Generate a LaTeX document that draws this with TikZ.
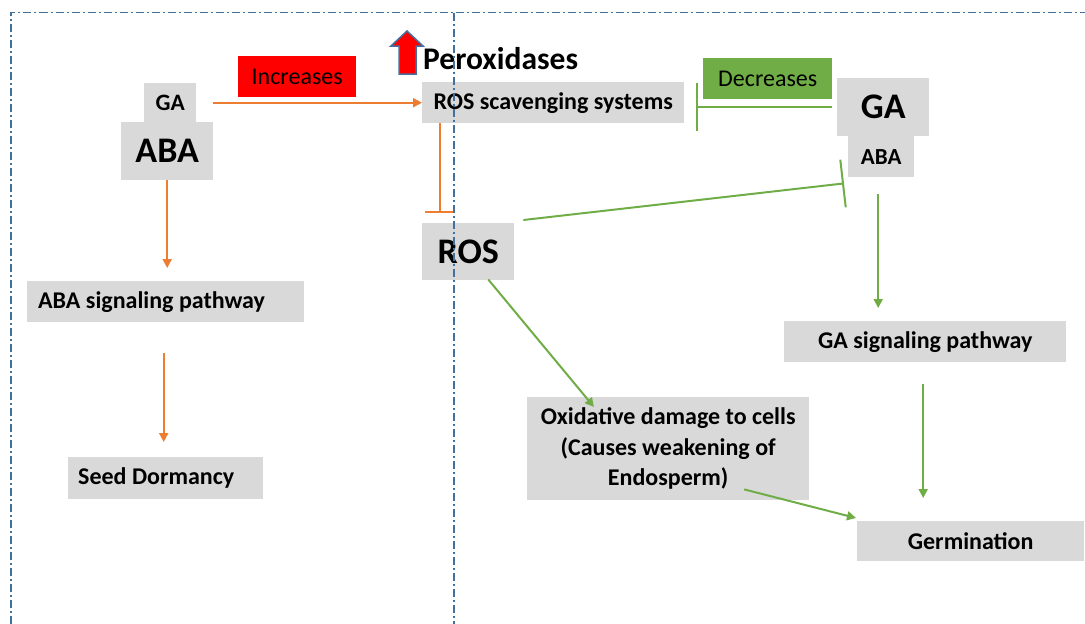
\documentclass[tikz,border=0pt]{standalone}
\usepackage{fontspec}
\setmainfont{Carlito}
\usetikzlibrary{arrows.meta,calc}
\definecolor{boxgray}{HTML}{D9D9D9}
\definecolor{linkorange}{HTML}{ED7D31}
\definecolor{linkgreen}{HTML}{70AD47}
\definecolor{frameblue}{HTML}{41719C}
\definecolor{upred}{HTML}{FF0000}

\begin{document}
\begin{tikzpicture}[x=1pt,y=-1pt,
  box/.style={fill=boxgray, inner sep=0pt, anchor=north west,
    font=\bfseries\fontsize{24}{29}\selectfont},
  bigtext/.style={font=\bfseries\fontsize{36}{40}\selectfont},
  tag/.style={inner sep=0pt, anchor=north west, font=\fontsize{24}{29}\selectfont},
  oarrow/.style={draw=linkorange, line width=2pt, -{Triangle[length=9pt,width=9pt]}},
  garrow/.style={draw=linkgreen, line width=2pt, -{Triangle[length=9pt,width=9pt]}},
  oinhib/.style={draw=linkorange, line width=2pt, -{Bar[width=30pt,line width=2pt]}},
  ginhib/.style={draw=linkgreen, line width=2pt, -{Bar[width=48pt,line width=2pt]}},
  frameline/.style={draw=frameblue, line width=1.5pt, dash pattern=on 8pt off 3pt on 2pt off 3pt}]

\useasboundingbox (0,0) rectangle (1085,624);

% left column: ABA branch
\node[box, minimum width=52pt, minimum height=39pt, font=\bfseries\fontsize{23.5}{27}\selectfont] (GA) at (144,83) {GA};
\node[box, bigtext, minimum width=92pt, minimum height=58pt] (ABA) at (121,122) {ABA};
\node[box, minimum height=41pt, inner xsep=11pt] (ABAsig) at (27,281) {\makebox[255pt][l]{ABA signaling pathway}};
\node[box, minimum height=42pt, inner xsep=10pt] (Seed) at (68,457) {\makebox[175pt][l]{Seed Dormancy}};

% labels on the links
\node[tag, fill=upred, minimum width=118pt, minimum height=41pt] (Inc) at (238,56) {Increases};
\node[tag, fill=linkgreen, minimum width=129pt, minimum height=41pt] (Dec) at (703,58) {Decreases};

% centre: ROS and its scavengers
\node[box, minimum width=262pt, minimum height=41pt] (ROSscav) at (422,82) {ROS scavenging systems};
\node[box, bigtext, minimum width=92pt, minimum height=57pt] (ROS) at (422,223) {ROS};
\node[box, minimum width=282pt, minimum height=103pt, align=center,
  font=\bfseries\fontsize{24}{30.5}\selectfont] (Ox) at (527,397)
  {\rule{0pt}{4pt}Oxidative damage to cells\\(Causes weakening of\\Endosperm)};

% up arrow with Peroxidases
\filldraw[fill=upred, draw=frameblue, line width=1.5pt, line join=miter]
  (399,74) -- (399,46) -- (391,46) -- (407,31) -- (423,46) -- (416,46) -- (416,74) -- cycle;
\node[inner sep=0pt, anchor=base west, font=\bfseries\fontsize{31.5}{36}\selectfont] (Perox) at (423,69) {Peroxidases};

% right column: GA branch
\node[box, bigtext, minimum width=92pt, minimum height=58pt] (GAr) at (837,78) {GA};
\node[box, minimum width=66pt, minimum height=41pt, font=\bfseries\fontsize{23}{27}\selectfont] (ABAr) at (848,136) {ABA};
\node[box, minimum width=282pt, minimum height=41pt] (GAsig) at (784,321) {GA signaling pathway};
\node[box, minimum width=227pt, minimum height=40pt] (Germ) at (857,521) {Germination};

% orange links
\draw[oarrow, shorten >=13pt] (ABA.south) -- (ABA.south |- ABAsig.north);
\draw[oarrow, shorten <=31pt, shorten >=15pt] ([xshift=-2pt]ABAsig.south) -- ([xshift=-2pt]ABAsig.south |- Seed.north);
\draw[oarrow] (GA.east -| ABA.east) -- (GA.east -| ROSscav.west);
\draw[oinhib, shorten >=10pt] ([xshift=18pt]ROSscav.south west) -- ([xshift=18pt]ROSscav.south west |- ROS.north);

% green links
\draw[ginhib, shorten <=5pt, shorten >=12pt] (GAr.west) -- (GAr.west -| ROSscav.east);
\draw[ginhib] ([xshift=9pt,yshift=3pt]ROS.north east) -- ([xshift=-4pt,yshift=-6pt]ABAr.south west);
\draw[garrow, shorten <=17pt, shorten >=13pt] ([xshift=-3pt]ABAr.south) -- ([xshift=-3pt]ABAr.south |- GAsig.north);
\draw[garrow] ([xshift=20pt,yshift=1pt]ROS.south) -- ([xshift=67pt,yshift=-10pt]Ox.north west);
\draw[garrow, shorten <=22pt, shorten >=23pt] ([xshift=-2pt]GAsig.south) -- ([xshift=-2pt]GAsig.south |- Germ.north);
\draw[garrow] ([xshift=76pt,yshift=11pt]Ox.south) -- ([xshift=-1pt,yshift=3pt]Germ.north west);

% dash-dot panel frame, drawn over the boxes
\draw[frameline] (11,624) -- (11,12.5) -- (1085,12.5);
\draw[frameline] (454,12.5) -- (454,624);
\end{tikzpicture}
\end{document}
